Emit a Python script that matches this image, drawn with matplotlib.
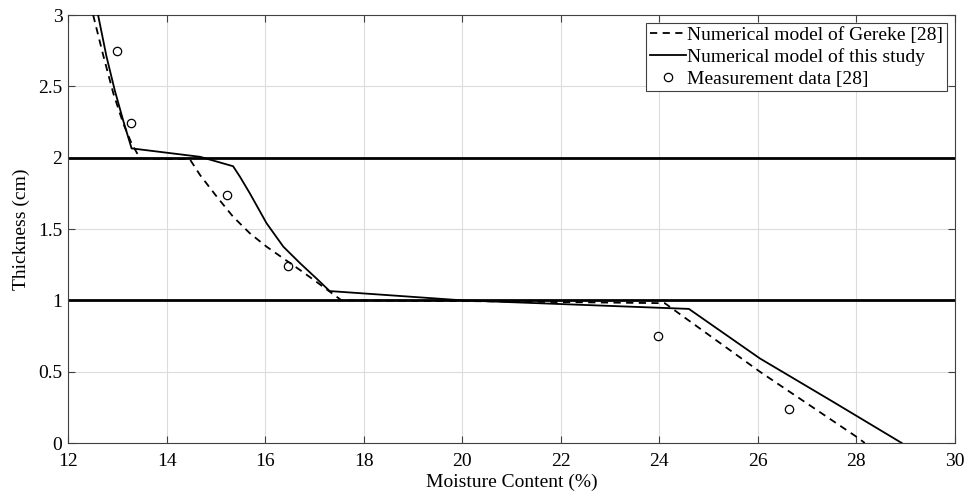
import matplotlib.pyplot as plt
import numpy as np

plt.rcParams['font.family'] = ['Liberation Serif', 'DejaVu Serif']

# Gereke numerical model (dashed)
gereke_x = [12.51, 12.72, 12.92, 13.12, 13.29, 13.46, 14.0, 14.47, 14.68, 15.02, 15.35,
            15.69, 16.03, 16.37, 16.71, 17.04, 17.55, 20.0, 24.11, 26.04, 28.0, 28.17]
gereke_y = [3.0, 2.71, 2.45, 2.24, 2.10, 1.995, 1.99, 1.99, 1.878, 1.726, 1.586,
            1.47, 1.376, 1.294, 1.212, 1.13, 1.0, 0.995, 0.98, 0.50, 0.044, 0.0]

# this study (solid)
study_x = [12.61, 12.78, 12.95, 13.12, 13.29, 14.68, 15.35, 15.49, 15.69, 16.03, 16.37,
           16.71, 17.04, 17.31, 20.0, 24.6, 26.04, 27.52, 28.92]
study_y = [3.0, 2.71, 2.47, 2.26, 2.065, 2.006, 1.94, 1.866, 1.75, 1.54, 1.376,
           1.26, 1.154, 1.065, 1.0, 0.94, 0.593, 0.29, 0.0]

# measurements
meas_x = [12.99, 13.27, 15.22, 16.46, 23.97, 26.64]
meas_y = [2.75, 2.24, 1.74, 1.24, 0.75, 0.24]

# layer boundaries
layer_y = [1.0, 2.0]

fig = plt.figure(figsize=(9.69, 5.0), dpi=100)
ax = fig.add_axes([0.0702, 0.114, 0.9153, 0.856])

for yy in layer_y:
    ax.axhline(yy, color='black', lw=2.0, zorder=2)

ax.plot(gereke_x, gereke_y, 'k--', lw=1.3, dashes=(4, 3), label='Numerical model of Gereke [28]', zorder=3)
ax.plot(study_x, study_y, 'k-', lw=1.3, label='Numerical model of this study', zorder=3)
ax.plot(meas_x, meas_y, 'o', mfc='none', mec='black', ms=6, mew=0.9,
        label='Measurement data [28]', zorder=4)

ax.set_xlim(12, 30)
ax.set_ylim(0, 3)
ax.set_xticks(np.arange(12, 31, 2))
ax.set_yticks(np.arange(0, 3.01, 0.5))
ax.set_yticklabels(['0', '0.5', '1', '1.5', '2', '2.5', '3'])
ax.grid(True, color='#dcdcdc', lw=0.8)
ax.set_axisbelow(True)
ax.tick_params(direction='in', top=True, right=True, labelsize=14, length=5, color='#404040')
ax.tick_params(axis='x', pad=7.5)
ax.tick_params(axis='y', pad=4)
for s in ax.spines.values():
    s.set_color('#404040')
    s.set_linewidth(0.8)

ax.set_xlabel('Moisture Content (%)', fontsize=14, labelpad=2)
ax.set_ylabel('Thickness (cm)', fontsize=14, labelpad=6)

leg = ax.legend(loc='upper right', fontsize=14, frameon=True, fancybox=False,
                edgecolor='#404040', framealpha=1, handlelength=1.85, handletextpad=0.05,
                borderpad=0.2, labelspacing=0.2, borderaxespad=0.4)
leg.get_frame().set_linewidth(0.8)

fig.savefig('out.png', dpi=100)
